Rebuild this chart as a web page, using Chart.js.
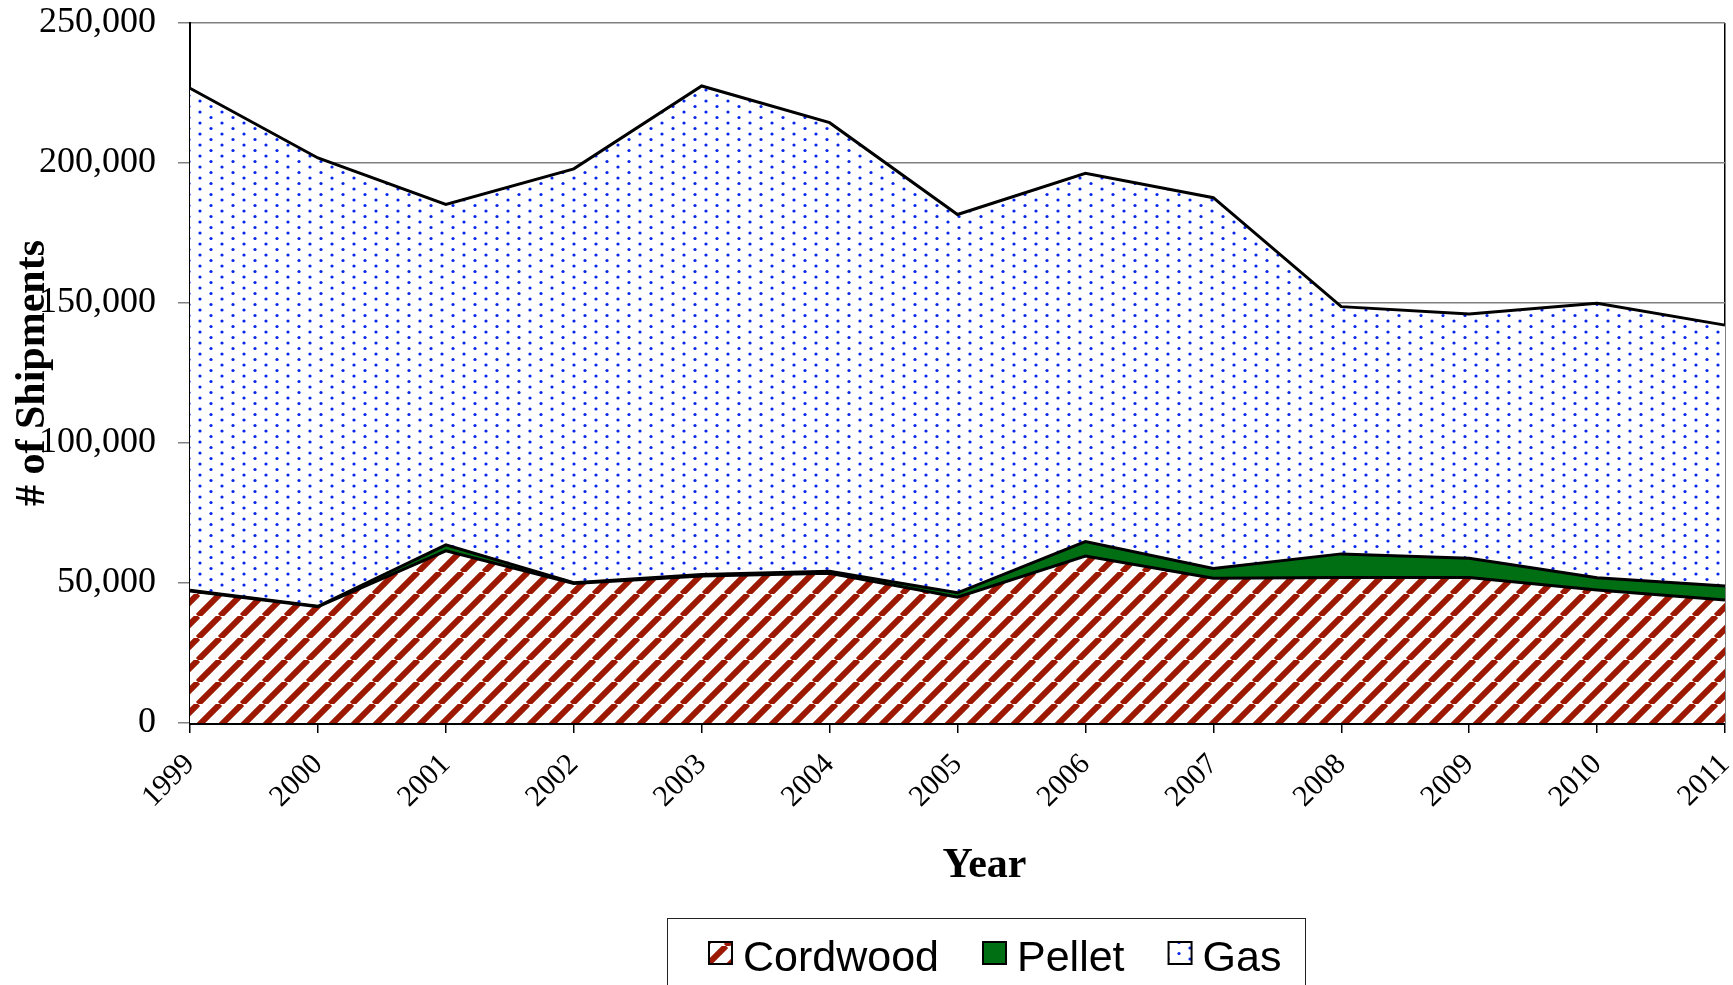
<!DOCTYPE html>
<html lang="en">
<head>
<meta charset="UTF-8">
<title>Stove Shipments</title>
<script src="https://cdn.jsdelivr.net/npm/chart.js"></script>
<style>
    html, body { margin: 0; padding: 0; background: #fff; }
    #wrap { width: 1733px; height: 985px; }
</style>
</head>
<body>
<div id="wrap"><canvas id="shipChart" width="1733" height="985"></canvas></div>
<script>
    // values (stacked area)
    const years = ['1999', '2000', '2001', '2002', '2003', '2004', '2005', '2006', '2007', '2008', '2009', '2010', '2011'];
    const cordwood = [47100, 41500, 61500, 49800, 52500, 53500, 44900, 59600, 51700, 52000, 52000, 47500, 43900];
    const pellet = [300, 200, 2100, 300, 500, 700, 1600, 5200, 3500, 8400, 6800, 4400, 5000];
    const gas = [179300, 160100, 121600, 147800, 174500, 160200, 135100, 131500, 132400, 88300, 87300, 98000, 93200];
    const yMax = 250000;
    const yStep = 50000;

    const serif = "'Liberation Serif', 'Times New Roman', serif";

    function stripePattern() {
        const s = 22;
        const c = document.createElement('canvas');
        c.width = s; c.height = s;
        const g = c.getContext('2d');
        g.fillStyle = '#fff';
        g.fillRect(0, 0, s, s);
        g.strokeStyle = '#9c1800';
        g.lineWidth = 6;
        for (let k = -1; k <= 1; k++) {
            g.beginPath();
            g.moveTo(k * s, s);
            g.lineTo(k * s + s, 0);
            g.stroke();
        }
        return g.createPattern(c, 'repeat');
    }

    function dotPattern() {
        const c = document.createElement('canvas');
        c.width = 22; c.height = 11;
        const g = c.getContext('2d');
        g.fillStyle = '#fff';
        g.fillRect(0, 0, 22, 11);
        g.fillStyle = '#0626ea';
        [[2, 2], [13, 7.5]].forEach(([x, y]) => {
            g.beginPath();
            g.arc(x, y, 1.6, 0, Math.PI * 2);
            g.fill();
        });
        return g.createPattern(c, 'repeat');
    }

    // x title sits a little right of centre, legend in a bordered box under the chart
    const extras = {
        id: 'extras',
        afterDraw(chart) {
            const g = chart.ctx;
            const area = chart.chartArea;
            g.save();
            g.fillStyle = '#000';
            g.font = 'bold 42px ' + serif;
            g.textAlign = 'center';
            g.fillText('Year', (area.left + area.right) / 2 + 27, area.bottom + 154);

            const top = area.bottom + 195;
            g.textAlign = 'left';
            g.strokeStyle = '#222';
            g.lineWidth = 1;
            g.strokeRect(667.5, top + 0.5, 638, 120);
            g.font = '43px "Liberation Sans", Arial, sans-serif';
            let x = 709;
            chart.data.datasets.forEach(ds => {
                g.fillStyle = ds.backgroundColor;
                g.fillRect(x, top + 24, 23, 22);
                g.lineWidth = 2;
                g.strokeStyle = '#000';
                g.strokeRect(x, top + 24, 23, 22);
                g.fillStyle = '#000';
                g.fillText(ds.label, x + 34, top + 53);
                x += 34 + g.measureText(ds.label).width + 44;
            });
            g.restore();
        }
    };

    const ctx = document.getElementById('shipChart').getContext('2d');
    const lastIdx = years.length - 1;

    new Chart(ctx, {
        type: 'line',
        data: {
            labels: years,
            datasets: [
                { label: 'Cordwood', data: cordwood, backgroundColor: stripePattern(), fill: 'origin', borderColor: '#000', borderWidth: 3 },
                { label: 'Pellet', data: pellet, backgroundColor: '#006f14', fill: '-1', borderColor: '#000', borderWidth: 3 },
                { label: 'Gas', data: gas, backgroundColor: dotPattern(), fill: '-1', borderColor: '#000', borderWidth: 3 }
            ]
        },
        options: {
            responsive: false,
            animation: false,
            layout: { padding: { left: 0, right: 8, top: 23, bottom: 92 } },
            elements: { point: { radius: 0 }, line: { tension: 0 } },
            plugins: { legend: { display: false }, tooltip: { enabled: false } },
            scales: {
                x: {
                    offset: false,
                    grid: {
                        color: c => c.index === lastIdx ? '#000' : 'rgba(0,0,0,0)',
                        lineWidth: 1.5,
                        tickColor: '#000',
                        tickLength: 10
                    },
                    border: { color: '#000', width: 3 },
                    ticks: {
                        autoSkip: false,
                        maxRotation: 45,
                        minRotation: 45,
                        padding: 14,
                        color: '#000',
                        font: { family: serif, size: 30 }
                    },
                    afterFit: s => {
                        s.height = 170;
                        s.paddingLeft = 0;
                        s.paddingRight = 0;
                    }
                },
                y: {
                    stacked: true,
                    min: 0,
                    max: yMax,
                    grid: { color: '#808080', lineWidth: 1.5, tickLength: 12 },
                    border: { color: '#000', width: 2 },
                    ticks: {
                        stepSize: yStep,
                        padding: 22,
                        color: '#000',
                        font: { family: serif, size: 36 },
                        callback: v => v.toLocaleString('en-US')
                    },
                    title: {
                        display: true,
                        text: '# of Shipments',
                        color: '#000',
                        font: { family: serif, size: 42, weight: 'bold' },
                        padding: { top: 8, bottom: 0 }
                    },
                    afterFit: s => {
                        s.width = 190;
                        s.paddingTop = 0;
                        s.paddingBottom = 0;
                    }
                }
            }
        },
        plugins: [extras]
    });
</script>
</body>
</html>
